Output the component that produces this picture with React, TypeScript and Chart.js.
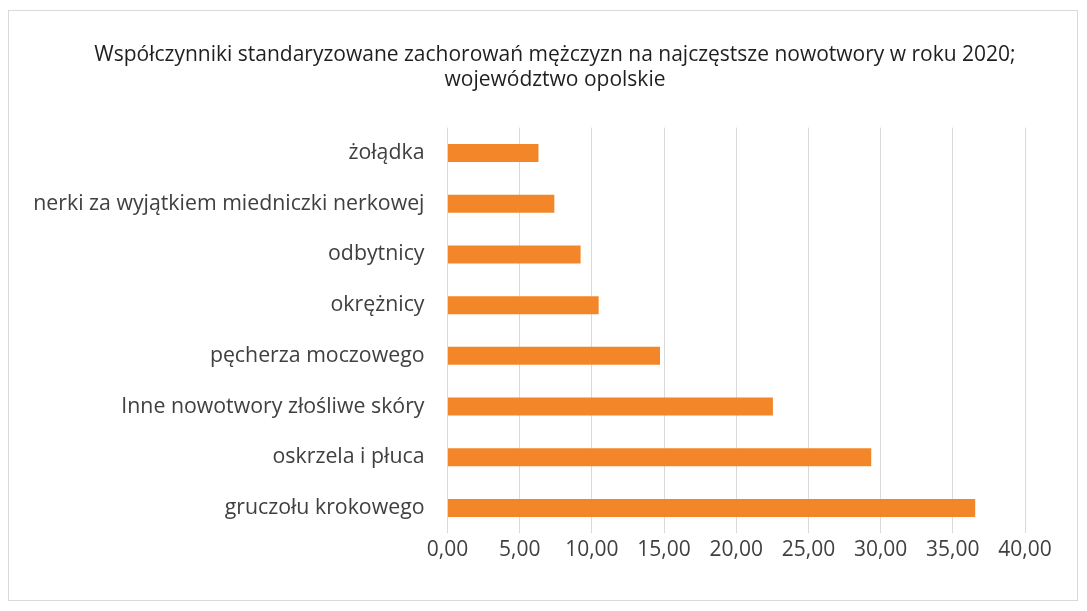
import { useEffect, useRef } from 'react';
import { Chart, registerables } from 'chart.js';

Chart.register(...registerables);

const titleLines = [
  'Współczynniki standaryzowane zachorowań mężczyzn na najczęstsze nowotwory w roku 2020;',
  'województwo opolskie',
];

const categories = [
  'żołądka',
  'nerki za wyjątkiem miedniczki nerkowej',
  'odbytnicy',
  'okrężnicy',
  'pęcherza moczowego',
  'Inne nowotwory złośliwe skóry',
  'oskrzela i płuca',
  'gruczołu krokowego',
];

const values = [6.3, 7.4, 9.22, 10.47, 14.72, 22.54, 29.35, 36.55];

const axisMin = 0;
const axisMax = 40;
const axisStep = 5;

const FONT = '"Open Sans", "Noto Sans", sans-serif';

const framePlugin = {
  id: 'frame',
  beforeDraw(chart: any) {
    const ctx = chart.ctx;
    ctx.save();
    ctx.fillStyle = '#ffffff';
    ctx.fillRect(0, 0, chart.width, chart.height);
    ctx.strokeStyle = '#d9d9d9';
    ctx.lineWidth = 1;
    ctx.strokeRect(8.5, 10.5, 1069, 590);
    ctx.restore();
  },
  afterDraw(chart: any) {
    const ctx = chart.ctx;
    ctx.save();
    ctx.fillStyle = '#1f1f1f';
    ctx.font = `21px ${FONT}`;
    ctx.textAlign = 'center';
    ctx.textBaseline = 'middle';
    titleLines.forEach((line, i) => {
      ctx.fillText(line, 555, 55 + i * 25);
    });
    ctx.restore();
  },
};

export default function App() {
  const ref = useRef<HTMLCanvasElement | null>(null);

  useEffect(() => {
    if (!ref.current) return;
    const chart = new Chart(ref.current, {
      type: 'bar',
      data: {
        labels: categories,
        datasets: [
          {
            data: values,
            backgroundColor: '#F4862A',
            borderWidth: 0,
            barPercentage: 0.355,
            categoryPercentage: 1,
          },
        ],
      },
      options: {
        indexAxis: 'y',
        responsive: false,
        animation: false,
        devicePixelRatio: 1,
        layout: { padding: { left: 20, right: 62, top: 127.6, bottom: 37.6 } },
        plugins: {
          legend: { display: false },
          tooltip: { enabled: false },
          title: { display: false },
        },
        scales: {
          x: {
            type: 'linear',
            min: axisMin,
            max: axisMax,
            ticks: {
              stepSize: axisStep,
              color: '#404040',
              padding: 4,
              font: { family: FONT, size: 21 },
              callback: (v: any) => Number(v).toFixed(2).replace('.', ','),
            },
            grid: { color: '#d9d9d9', lineWidth: 1, drawTicks: false, tickLength: 0 },
            border: { display: false },
            afterFit: (scale: any) => {
              scale.height = 40;
            },
          },
          y: {
            ticks: {
              color: '#404040',
              padding: 23,
              font: { family: FONT, size: 21.3 },
            },
            grid: { display: false, drawTicks: false, tickLength: 0 },
            border: { display: false },
            afterFit: (scale: any) => {
              scale.width = 427.5;
            },
          },
        },
      },
      plugins: [framePlugin],
    });
    return () => chart.destroy();
  }, []);

  return (
    <canvas
      ref={ref}
      width={1087}
      height={611}
      style={{ position: 'absolute', left: 0, top: 0, width: 1087, height: 611 }}
    />
  );
}
